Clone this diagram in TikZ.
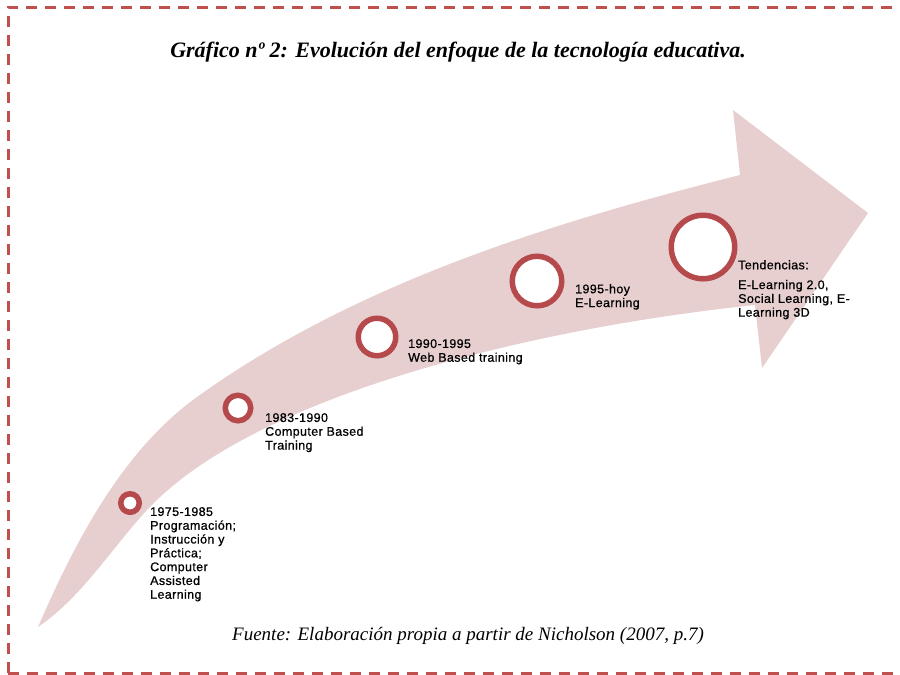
\documentclass[tikz,border=0pt]{standalone}
\usepackage{fontspec}
\usetikzlibrary{shadows}
\newfontfamily\labfont[LetterSpace=3, FakeBold=0.7]{Liberation Sans}
\newfontfamily\serfont{Liberation Serif}
\definecolor{bandpink}{HTML}{E7CFD0}
\definecolor{ringred}{HTML}{B5494B}
\definecolor{borderred}{HTML}{C0504D}
\tikzset{
  ring/.style={circle, draw=ringred, line width=5.5pt, fill=white, inner sep=0pt,
    drop shadow={shadow xshift=1pt, shadow yshift=-2.5pt, opacity=0.3, fill=black}},
  lbl/.style={anchor=north west, align=left, inner sep=0pt,
    font=\labfont\fontsize{12.5}{13.8}\selectfont},
  frame/.style={borderred, line width=3pt, dash pattern=on 11pt off 8pt},
}
\begin{document}
\begin{tikzpicture}[x=1pt, y=-1pt]
\useasboundingbox (0,0) rectangle (900,675);
\clip (0,0) rectangle (900,675);
\fill[white] (0,0) rectangle (900,675);
% border
\draw[frame] (8,673) -- (8,7) -- (920,7);
\draw[frame] (8,673) -- (920,673);
% curved arrow band
\fill[bandpink] (38,627) .. controls (75,542) and (122,451) .. (197,397)
  .. controls (356,283) and (550,223) .. (740,175)
  -- (733,110) -- (868,213) -- (762,368) -- (755,305)
  .. controls (542,327) and (256,393) .. (147,510)
  .. controls (111,549) and (82,597) .. (38,627) -- cycle;
% title
\node[font=\serfont\bfseries\itshape\fontsize{22}{26}\selectfont, anchor=base] (title) at (458,57) {Gráfico nº 2: Evolución del enfoque de la tecnología educativa.};
% milestones
\node[ring, minimum size=18.5pt] (c1) at (130,503) {};
\node[ring, minimum size=25.5pt] (c2) at (238,408) {};
\node[ring, minimum size=37.5pt] (c3) at (377,337) {};
\node[ring, minimum size=49.5pt] (c4) at (537,281) {};
\node[ring, minimum size=63.5pt] (c5) at (703,247) {};
\node[lbl] (t1) at (150,507) {1975-1985\\Programación;\\Instrucción y\\Práctica;\\Computer\\Assisted\\Learning};
\node[lbl] (t2) at (265,413) {1983-1990\\Computer Based\\Training};
\node[lbl] (t3) at (408,339) {1990-1995\\Web Based training};
\node[lbl] (t4) at (575,284) {1995-hoy\\E-Learning};
\node[lbl] (t5) at (738,260) {Tendencias:\\[6pt]E-Learning 2.0,\\Social Learning, E-\\Learning 3D};
% source
\node[font=\serfont\itshape\fontsize{19}{22}\selectfont, anchor=base] (src) at (468,640) {Fuente: Elaboración propia a partir de Nicholson (2007, p.7)};
\end{tikzpicture}
\end{document}
